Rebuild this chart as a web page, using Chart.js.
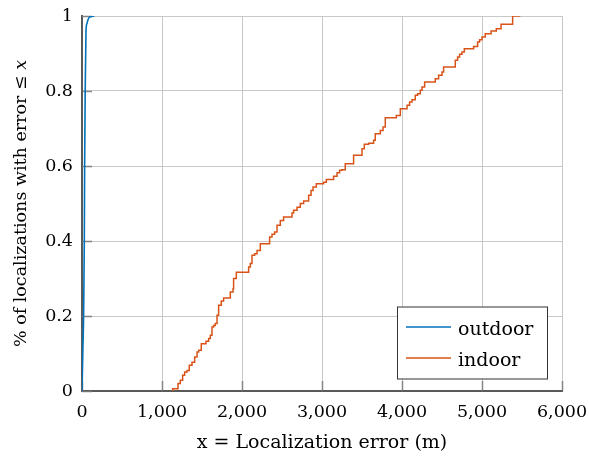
<!DOCTYPE html>
<html><head><meta charset="utf-8">
<script src="https://cdn.jsdelivr.net/npm/chart.js@4.4.0/dist/chart.umd.min.js"></script>
<style>html,body{margin:0;padding:0;background:#fff;}#wrap{width:589px;height:457px;}</style>
</head><body><div id="wrap"><canvas id="c" width="589" height="457"></canvas></div>
<script>
const seriesNames = ['outdoor', 'indoor'];
const seriesColors = ['#0072BD', '#D95319'];

const outdoorX = [0, 5, 12, 20, 29, 33, 40, 50, 62, 75, 100, 155];
const outdoorY = [0, 0.05, 0.12, 0.2, 0.4, 0.6, 0.8, 0.96, 0.98, 0.99, 0.998, 1];

const indoorX = [1133, 1133, 1200, 1229, 1258, 1283, 1313, 1341, 1375, 1408, 1438, 1458, 1491, 1550, 1583, 1604, 1625, 1645, 1666, 1688, 1708, 1741,
  1770, 1854, 1888, 1895, 1929, 2083, 2104, 2125, 2158, 2188, 2229, 2345, 2375, 2408, 2438, 2479, 2520, 2625, 2645, 2688,
  2729, 2770, 2833, 2863, 2888, 2929, 3020, 3054, 3145, 3188, 3220, 3250, 3291, 3395, 3500, 3529, 3583, 3645,
  3666, 3729, 3763, 3791, 3929, 3979, 4063, 4095, 4125, 4166, 4195, 4229, 4250, 4283, 4416, 4458, 4500,
  4520, 4666, 4695, 4720, 4750, 4779, 4895, 4945, 4970, 5000, 5041, 5113, 5179, 5238, 5383, 5479];
const indoorY = [0, 0.006, 0.02, 0.029, 0.042, 0.051, 0.055, 0.069, 0.077, 0.091, 0.104, 0.109, 0.126, 0.133, 0.14, 0.149, 0.171, 0.175, 0.18, 0.202, 0.229, 0.24,
  0.248, 0.264, 0.273, 0.30, 0.317, 0.331, 0.34, 0.362, 0.366, 0.375, 0.393, 0.411, 0.418, 0.424, 0.442, 0.455, 0.464, 0.475, 0.482, 0.49,
  0.50, 0.507, 0.522, 0.535, 0.544, 0.553, 0.557, 0.564, 0.573, 0.582, 0.589, 0.59, 0.606, 0.629, 0.646, 0.658, 0.661, 0.669,
  0.686, 0.695, 0.704, 0.729, 0.735, 0.753, 0.762, 0.771, 0.777, 0.789, 0.793, 0.802, 0.811, 0.824, 0.833, 0.842, 0.851,
  0.864, 0.882, 0.891, 0.898, 0.904, 0.913, 0.919, 0.931, 0.937, 0.944, 0.953, 0.96, 0.966, 0.978, 1.0, 1.0];

const xTickValues = [0, 1000, 2000, 3000, 4000, 5000, 6000];
const xTickLabels = ['0', '1,000', '2,000', '3,000', '4,000', '5,000', '6,000'];
const yTickValues = [0, 0.2, 0.4, 0.6, 0.8, 1];
const yTickLabels = ['0', '0.2', '0.4', '0.6', '0.8', '1'];
const xTitle = 'x = Localization error (m)';
const yTitleMain = '% of localizations with error \u2264 ';
const yTitleVar = 'x';

const FONT = '"DejaVu Serif", serif';

function pts(xs, ys) { return xs.map((x, i) => ({ x: x, y: ys[i] })); }

const innerTicks = {
  id: 'innerTicks',
  beforeDatasetsDraw(chart) {
    const ctx = chart.ctx, a = chart.chartArea;
    const xs = chart.scales.x, ys = chart.scales.y;
    ctx.save();
    ctx.strokeStyle = 'rgba(120,120,120,0.85)';
    ctx.lineWidth = 1.5;
    ctx.beginPath();
    xTickValues.forEach(v => { const p = Math.round(xs.getPixelForValue(v)) + 0.5; ctx.moveTo(p, a.bottom); ctx.lineTo(p, a.bottom - 10); });
    yTickValues.forEach(v => { const p = Math.round(ys.getPixelForValue(v)) + 0.5; ctx.moveTo(a.left, p); ctx.lineTo(a.left + 10, p); });
    ctx.stroke();
    ctx.restore();
  }
};

const titles = {
  id: 'titles',
  afterDraw(chart) {
    const ctx = chart.ctx, a = chart.chartArea;
    ctx.save();
    ctx.fillStyle = '#000';
    ctx.font = '19px ' + FONT;
    ctx.textAlign = 'center';
    ctx.textBaseline = 'alphabetic';
    ctx.fillText(xTitle, (a.left + a.right) / 2, 448);
    const mainFont = '17.5px ' + FONT;
    const varFont = 'italic 17.5px ' + FONT;
    ctx.font = mainFont; const w1 = ctx.measureText(yTitleMain).width;
    ctx.font = varFont; const w2 = ctx.measureText(yTitleVar).width;
    const total = w1 + w2;
    const cy = (a.top + a.bottom) / 2;
    ctx.translate(26, cy);
    ctx.rotate(-Math.PI / 2);
    ctx.textAlign = 'left';
    ctx.font = mainFont; ctx.fillText(yTitleMain, -total / 2, 0);
    ctx.font = varFont; ctx.fillText(yTitleVar, -total / 2 + w1, 0);
    ctx.restore();
  }
};

const boxLegend = {
  id: 'boxLegend',
  afterDraw(chart) {
    const ctx = chart.ctx;
    const bx = 397, by = 306.5, bw = 150, bh = 72;
    ctx.save();
    ctx.fillStyle = '#fff';
    ctx.fillRect(bx, by, bw, bh);
    ctx.strokeStyle = '#333';
    ctx.lineWidth = 1;
    ctx.strokeRect(bx + 0.5, by + 0.5, bw, bh);
    ctx.font = '19px ' + FONT;
    ctx.textBaseline = 'alphabetic';
    ctx.textAlign = 'left';
    chart.data.datasets.forEach((ds, i) => {
      const ly = 327 + i * 31;
      ctx.strokeStyle = ds.borderColor;
      ctx.lineWidth = 1.3;
      ctx.beginPath(); ctx.moveTo(406, ly); ctx.lineTo(451, ly); ctx.stroke();
      ctx.fillStyle = '#000';
      ctx.fillText(ds.label, 458, ly + 8);
    });
    ctx.restore();
  }
};

new Chart(document.getElementById('c'), {
  type: 'line',
  data: {
    datasets: [
      { label: seriesNames[0], data: pts(outdoorX, outdoorY), borderColor: seriesColors[0], borderWidth: 1.6, pointRadius: 0, cubicInterpolationMode: 'monotone', fill: false },
      { label: seriesNames[1], data: pts(indoorX, indoorY), borderColor: seriesColors[1], borderWidth: 1.5, pointRadius: 0, stepped: true, fill: false }
    ]
  },
  options: {
    responsive: false,
    devicePixelRatio: 1,
    animation: false,
    layout: { padding: { left: 0, right: 27, top: 16, bottom: 0 } },
    plugins: { legend: { display: false }, tooltip: { enabled: false } },
    scales: {
      x: {
        type: 'linear', min: 0, max: 6000,
        afterBuildTicks: s => { s.ticks = xTickValues.map(v => ({ value: v })); },
        afterFit: s => { s.height = 66; s.paddingLeft = 0; s.paddingRight = 0; },
        grid: { color: '#c8c8c8', lineWidth: 1, drawTicks: false },
        border: { color: '#5a5a5a', width: 2 },
        ticks: { padding: 11, color: '#000', font: { family: FONT, size: 17.5 }, maxRotation: 0, callback: v => xTickLabels[xTickValues.indexOf(v)] }
      },
      y: {
        type: 'linear', min: 0, max: 1,
        afterBuildTicks: s => { s.ticks = yTickValues.map(v => ({ value: v })); },
        afterFit: s => { s.width = 82; s.paddingTop = 0; s.paddingBottom = 0; },
        grid: { color: '#c8c8c8', lineWidth: 1, drawTicks: false },
        border: { color: '#5a5a5a', width: 2 },
        ticks: { padding: 9, color: '#000', font: { family: FONT, size: 17.5 }, callback: v => yTickLabels[yTickValues.indexOf(v)] }
      }
    }
  },
  plugins: [innerTicks, titles, boxLegend]
});
</script></body></html>
